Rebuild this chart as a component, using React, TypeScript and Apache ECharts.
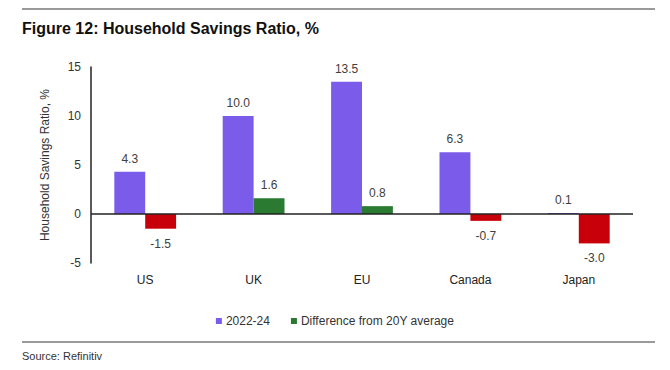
import React, { useEffect, useRef } from "react";
import * as echarts from "echarts";

const categories = ["US", "UK", "EU", "Canada", "Japan"];
const recent = [4.3, 10.0, 13.5, 6.3, 0.1];
const diff20y = [-1.5, 1.6, 0.8, -0.7, -3.0];
const yTicks = { min: -5, max: 15, interval: 5 };

const PURPLE = "#7B5BEA";
const GREEN = "#2A7A32";
const RED = "#C8000A";
const FONT = "'Liberation Sans', Arial, sans-serif";

export default function App() {
  const ref = useRef<HTMLDivElement>(null);
  useEffect(() => {
    if (!ref.current) return;
    const chart = echarts.init(ref.current, undefined, { renderer: "svg" });
    const lbl = (v: number) => ({
      show: true,
      position: v < 0 ? "bottom" : "top",
      distance: v < 0 ? 9 : 7,
      formatter: (p: any) => Number(p.value).toFixed(1),
      color: "#404040",
      fontSize: 12,
      fontFamily: FONT,
    });
    chart.setOption({
      animation: false,
      textStyle: { fontFamily: FONT },
      grid: { left: 91, right: 37, top: 67, bottom: 107 },
      legend: {
        data: ["2022-24", "Difference from 20Y average"],
        left: "center",
        top: 310,
        itemWidth: 6,
        itemHeight: 6,
        itemGap: 21,
        icon: "rect",
        textStyle: { fontSize: 12, color: "#333", fontFamily: FONT, padding: [0, 0, 0, -1] },
      },
      xAxis: {
        type: "category",
        data: categories,
        axisLine: { show: false, onZero: false },
        axisTick: { show: false },
        axisLabel: { margin: 11, fontSize: 12, color: "#222", fontFamily: FONT },
      },
      yAxis: {
        type: "value",
        min: yTicks.min,
        max: yTicks.max,
        interval: yTicks.interval,
        name: "Household Savings Ratio, %",
        nameLocation: "middle",
        nameGap: 40,
        nameRotate: 90,
        nameTextStyle: { fontSize: 12, color: "#333", fontFamily: FONT },
        axisLine: { show: true, lineStyle: { color: "#222", width: 1.5 } },
        axisTick: { show: false },
        splitLine: { show: false },
        axisLabel: { margin: 10, fontSize: 12, color: "#333", fontFamily: FONT },
      },
      series: [
        {
          name: "2022-24",
          type: "bar",
          barGap: "0%",
          barCategoryGap: "43%",
          itemStyle: { color: PURPLE },
          data: recent.map((v) => ({ value: v, label: lbl(v) })),
          markLine: {
            silent: true,
            symbol: "none",
            label: { show: false },
            lineStyle: { color: "#222", width: 1.5, type: "solid" },
            data: [{ yAxis: 0 }],
          },
          z: 1,
        },
        {
          name: "Difference from 20Y average",
          type: "bar",
          itemStyle: { color: GREEN },
          data: diff20y.map((v) => ({
            value: v,
            itemStyle: { color: v < 0 ? RED : GREEN },
            label: lbl(v),
          })),
          z: 1,
        },
      ],
      graphic: [
        {
          type: "line",
          shape: { x1: 22, y1: 9, x2: 655, y2: 9 },
          style: { stroke: "#9a9a9a", lineWidth: 2 },
        },
        {
          type: "text",
          left: 22,
          top: 20,
          style: {
            text: "Figure 12: Household Savings Ratio, %",
            font: `bold 16px ${FONT}`,
            fill: "#111",
          },
        },
        {
          type: "line",
          shape: { x1: 22, y1: 342, x2: 655, y2: 342 },
          style: { stroke: "#9a9a9a", lineWidth: 2 },
        },
        {
          type: "text",
          left: 22,
          top: 350,
          style: { text: "Source: Refinitiv", font: `11px ${FONT}`, fill: "#333" },
        },
      ],
    });
    return () => chart.dispose();
  }, []);
  return (
    <div
      ref={ref}
      style={{ position: "absolute", left: 0, top: 0, width: 670, height: 370, background: "#fff" }}
    />
  );
}
